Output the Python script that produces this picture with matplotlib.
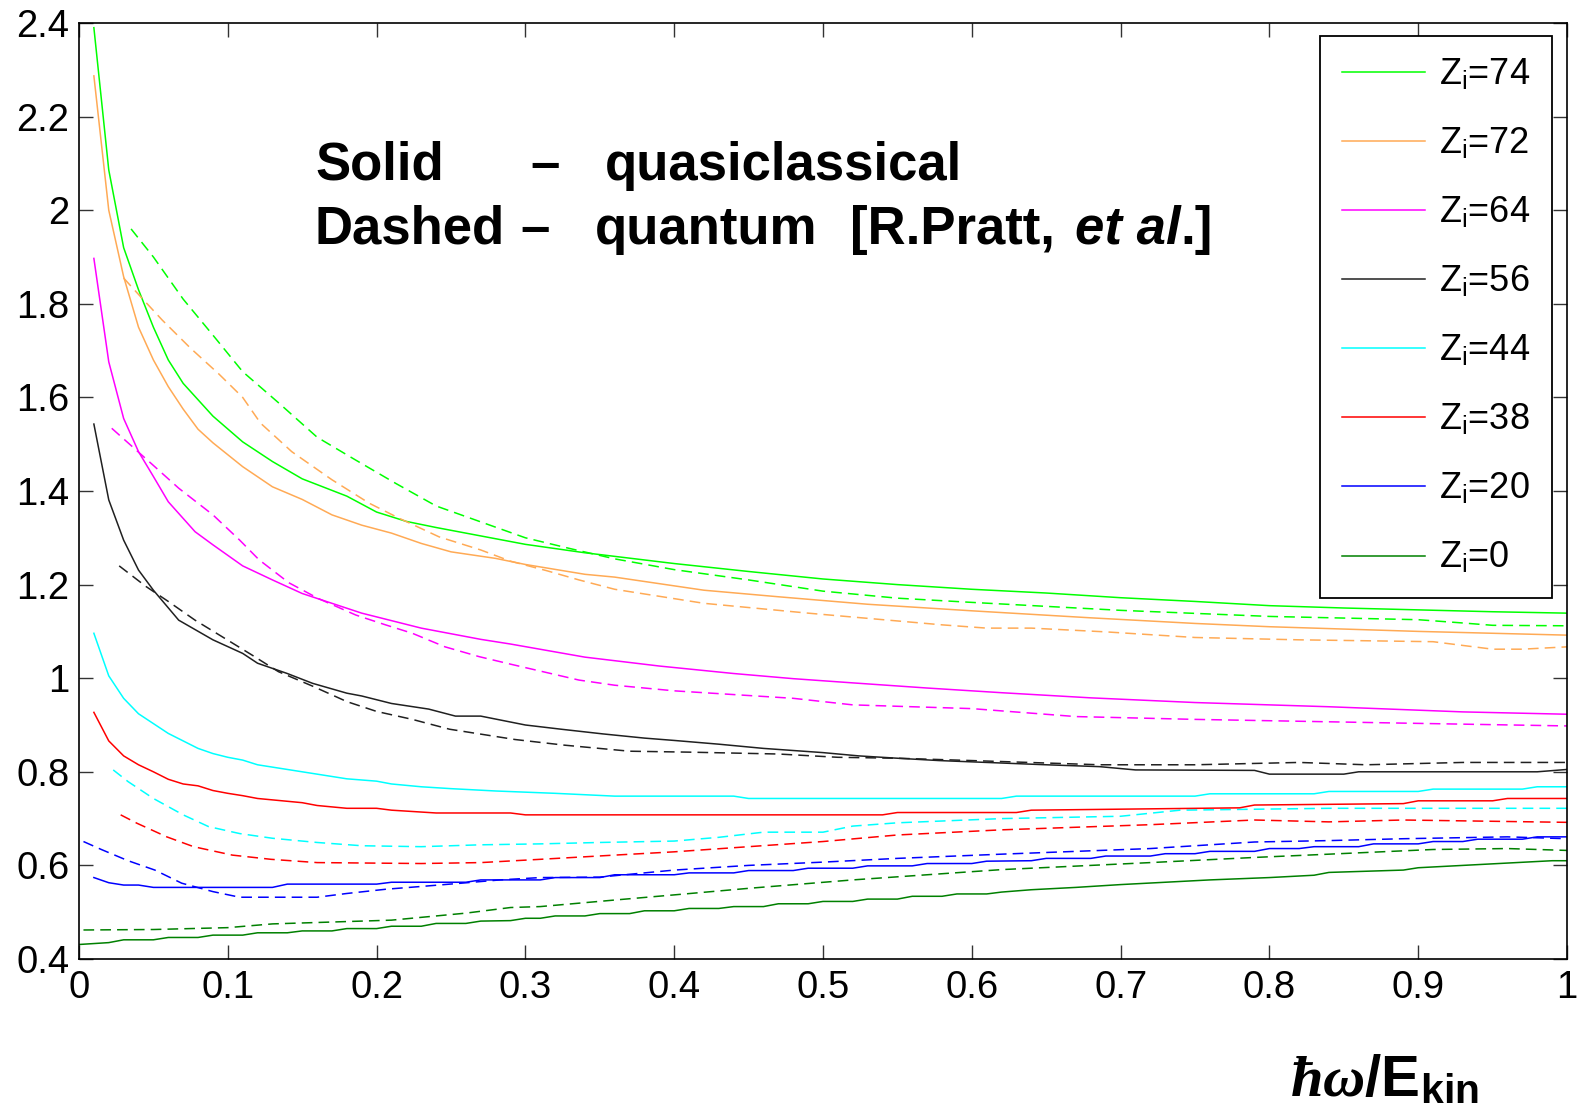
import matplotlib
matplotlib.use("Agg")
import matplotlib.pyplot as plt
from matplotlib.ticker import MultipleLocator, FormatStrFormatter

# Quasiclassical curves (solid), one pair of lists per ion charge Z_i
x_q74 = [0.01, 0.02, 0.03, 0.04, 0.05, 0.06, 0.07, 0.09, 0.11, 0.13, 0.15, 0.18, 0.2, 0.22,
         0.24, 0.26, 0.28, 0.3, 0.34, 0.4, 0.45, 0.5, 0.55, 0.6, 0.65, 0.7, 0.75, 0.8, 0.85,
         0.9, 0.95, 1.0]
y_q74 = [2.39, 2.086, 1.92, 1.83, 1.75, 1.68, 1.63, 1.56, 1.505, 1.463, 1.426, 1.389, 1.355,
         1.335, 1.322, 1.31, 1.298, 1.286, 1.268, 1.245, 1.228, 1.212, 1.200, 1.190, 1.182,
         1.172, 1.164, 1.155, 1.150, 1.146, 1.142, 1.139]

x_q72 = [0.01, 0.02, 0.03, 0.04, 0.05, 0.06, 0.07, 0.08, 0.09, 0.11, 0.13, 0.15, 0.17, 0.19,
         0.21, 0.23, 0.25, 0.28, 0.3, 0.34, 0.36, 0.42, 0.47, 0.53, 0.6, 0.68, 0.75, 0.8,
         0.85, 0.9, 0.95, 1.0]
y_q72 = [2.287, 2.0, 1.858, 1.75, 1.68, 1.623, 1.575, 1.532, 1.503, 1.452, 1.409, 1.382,
         1.349, 1.327, 1.31, 1.288, 1.27, 1.256, 1.243, 1.222, 1.216, 1.188, 1.174, 1.158,
         1.144, 1.129, 1.117, 1.11, 1.105, 1.10, 1.096, 1.092]

x_q64 = [0.01, 0.02, 0.03, 0.04, 0.05, 0.06, 0.078, 0.09, 0.11, 0.13, 0.15, 0.17, 0.19, 0.21,
         0.23, 0.27, 0.29, 0.34, 0.39, 0.44, 0.48, 0.52, 0.57, 0.62, 0.68, 0.75, 0.84, 0.93,
         1.0]
y_q64 = [1.897, 1.676, 1.555, 1.484, 1.431, 1.377, 1.313, 1.285, 1.24, 1.21, 1.181, 1.16,
         1.139, 1.123, 1.107, 1.083, 1.073, 1.045, 1.026, 1.01, 0.999, 0.99, 0.979, 0.969,
         0.958, 0.948, 0.939, 0.928, 0.923]

x_q56 = [0.01, 0.02, 0.03, 0.04, 0.05, 0.067, 0.09, 0.11, 0.12, 0.14, 0.157, 0.18, 0.19,
         0.21, 0.235, 0.253, 0.27, 0.3, 0.324, 0.352, 0.38, 0.4, 0.43, 0.46, 0.5, 0.524,
         0.55, 0.578, 0.61, 0.65, 0.686, 0.71, 0.79, 0.8, 0.85, 0.86, 0.98, 1.0]
y_q56 = [1.543, 1.381, 1.295, 1.231, 1.188, 1.124, 1.082, 1.053, 1.032, 1.01, 0.989, 0.968,
         0.962, 0.946, 0.934, 0.919, 0.919, 0.90, 0.891, 0.881, 0.872, 0.867, 0.859, 0.85,
         0.841, 0.834, 0.829, 0.824, 0.82, 0.815, 0.811, 0.804, 0.803, 0.795, 0.795, 0.80,
         0.80, 0.805]

x_q44 = [0.01, 0.02, 0.03, 0.04, 0.05, 0.06, 0.07, 0.08, 0.09, 0.1, 0.11, 0.12, 0.13, 0.15,
         0.18, 0.2, 0.21, 0.23, 0.25, 0.28, 0.32, 0.36, 0.44, 0.45, 0.62, 0.63, 0.75, 0.76,
         0.83, 0.84, 0.90, 0.91, 0.97, 0.98, 1.0]
y_q44 = [1.096, 1.005, 0.957, 0.924, 0.903, 0.882, 0.866, 0.85, 0.839, 0.831, 0.825, 0.815,
         0.81, 0.80, 0.785, 0.78, 0.774, 0.768, 0.764, 0.759, 0.754, 0.748, 0.748, 0.743,
         0.743, 0.748, 0.748, 0.753, 0.753, 0.758, 0.758, 0.763, 0.763, 0.768, 0.768]

x_q38 = [0.01, 0.02, 0.03, 0.04, 0.05, 0.06, 0.07, 0.08, 0.09, 0.1, 0.11, 0.12, 0.13, 0.15,
         0.16, 0.18, 0.2, 0.21, 0.24, 0.29, 0.3, 0.54, 0.55, 0.63, 0.64, 0.78, 0.79, 0.89,
         0.9, 0.95, 0.96, 1.0]
y_q38 = [0.927, 0.866, 0.834, 0.815, 0.80, 0.784, 0.774, 0.77, 0.76, 0.754, 0.749, 0.743,
         0.74, 0.734, 0.728, 0.722, 0.722, 0.718, 0.712, 0.712, 0.708, 0.708, 0.713, 0.713,
         0.718, 0.723, 0.729, 0.732, 0.738, 0.738, 0.743, 0.743]

x_q20 = [0.01, 0.02, 0.03, 0.04, 0.05, 0.13, 0.14, 0.2, 0.21, 0.26, 0.27, 0.31, 0.32, 0.35,
         0.36, 0.40, 0.41, 0.44, 0.45, 0.48, 0.49, 0.52, 0.53, 0.56, 0.57, 0.60, 0.61, 0.64,
         0.65, 0.68, 0.69, 0.72, 0.73, 0.75, 0.76, 0.79, 0.80, 0.82, 0.83, 0.86, 0.87, 0.90,
         0.91, 0.93, 0.94, 0.97, 0.98, 1.0]
y_q20 = [0.574, 0.563, 0.558, 0.558, 0.553, 0.553, 0.56, 0.56, 0.564, 0.564, 0.569, 0.569,
         0.574, 0.574, 0.58, 0.58, 0.584, 0.584, 0.589, 0.589, 0.594, 0.594, 0.599, 0.599,
         0.604, 0.604, 0.609, 0.61, 0.615, 0.615, 0.62, 0.62, 0.625, 0.625, 0.63, 0.63, 0.636,
         0.636, 0.64, 0.64, 0.646, 0.646, 0.651, 0.651, 0.656, 0.656, 0.661, 0.661]

x_q0 = [0.0, 0.02, 0.03, 0.05, 0.06, 0.08, 0.09, 0.11, 0.12, 0.14, 0.15, 0.17, 0.18, 0.2,
        0.21, 0.23, 0.24, 0.26, 0.27, 0.29, 0.30, 0.31, 0.32, 0.34, 0.35, 0.37, 0.38, 0.40,
        0.41, 0.43, 0.44, 0.46, 0.47, 0.49, 0.50, 0.52, 0.53, 0.55, 0.56, 0.58, 0.59, 0.61,
        0.62, 0.64, 0.67, 0.70, 0.73, 0.76, 0.80, 0.83, 0.84, 0.89, 0.90, 0.93, 0.96, 0.99,
        1.0]
y_q0 = [0.431, 0.435, 0.441, 0.441, 0.446, 0.446, 0.451, 0.451, 0.456, 0.456, 0.46, 0.46,
        0.465, 0.465, 0.47, 0.47, 0.476, 0.476, 0.481, 0.482, 0.487, 0.487, 0.492, 0.492,
        0.497, 0.497, 0.503, 0.503, 0.508, 0.508, 0.512, 0.512, 0.518, 0.518, 0.523, 0.523,
        0.528, 0.528, 0.534, 0.534, 0.539, 0.539, 0.543, 0.548, 0.553, 0.559, 0.564, 0.569,
        0.574, 0.579, 0.585, 0.59, 0.595, 0.60, 0.605, 0.61, 0.61]

# Quantum curves (dashed)
x_p74 = [0.035, 0.05, 0.07, 0.09, 0.11, 0.135, 0.16, 0.186, 0.213, 0.24, 0.27, 0.3, 0.33,
         0.36, 0.4, 0.45, 0.5, 0.55, 0.6, 0.7, 0.8, 0.9, 0.93, 0.95, 1.0]
y_p74 = [1.96, 1.90, 1.81, 1.733, 1.655, 1.586, 1.515, 1.466, 1.416, 1.368, 1.334, 1.30,
         1.277, 1.255, 1.232, 1.21, 1.186, 1.171, 1.162, 1.145, 1.132, 1.125, 1.118, 1.113,
         1.112]

x_p72 = [0.03, 0.04, 0.056, 0.075, 0.094, 0.11, 0.122, 0.143, 0.17, 0.195, 0.215, 0.242,
         0.27, 0.29, 0.314, 0.336, 0.36, 0.42, 0.49, 0.58, 0.61, 0.64, 0.69, 0.75, 0.82,
         0.91, 0.95, 0.97, 1.0]
y_p72 = [1.855, 1.82, 1.765, 1.705, 1.65, 1.60, 1.545, 1.484, 1.424, 1.374, 1.342, 1.302,
         1.274, 1.25, 1.23, 1.21, 1.19, 1.16, 1.139, 1.114, 1.107, 1.107, 1.099, 1.087,
         1.082, 1.078, 1.062, 1.062, 1.067]

x_p64 = [0.022, 0.046, 0.067, 0.09, 0.108, 0.121, 0.141, 0.161, 0.186, 0.206, 0.224, 0.246,
         0.269, 0.29, 0.336, 0.36, 0.40, 0.48, 0.52, 0.6, 0.67, 0.75, 0.89, 1.0]
y_p64 = [1.534, 1.466, 1.406, 1.349, 1.295, 1.253, 1.204, 1.17, 1.135, 1.114, 1.096, 1.067,
         1.046, 1.03, 0.996, 0.985, 0.973, 0.957, 0.943, 0.935, 0.918, 0.912, 0.904, 0.898]

x_p56 = [0.027, 0.045, 0.06, 0.078, 0.096, 0.116, 0.134, 0.157, 0.18, 0.2, 0.224, 0.249,
         0.293, 0.326, 0.37, 0.41, 0.47, 0.51, 0.55, 0.6, 0.686, 0.75, 0.82, 0.865, 0.93, 1.0]
y_p56 = [1.24, 1.196, 1.164, 1.124, 1.089, 1.05, 1.014, 0.983, 0.95, 0.929, 0.912, 0.891,
         0.869, 0.857, 0.844, 0.842, 0.838, 0.831, 0.829, 0.824, 0.815, 0.815, 0.82, 0.815,
         0.82, 0.82]

x_p44 = [0.023, 0.033, 0.05, 0.07, 0.087, 0.108, 0.13, 0.16, 0.19, 0.23, 0.27, 0.31, 0.35,
         0.40, 0.43, 0.46, 0.50, 0.52, 0.55, 0.62, 0.70, 0.74, 0.84, 1.0]
y_p44 = [0.804, 0.779, 0.743, 0.708, 0.683, 0.668, 0.658, 0.649, 0.642, 0.64, 0.644, 0.646,
         0.649, 0.652, 0.66, 0.671, 0.671, 0.684, 0.691, 0.70, 0.705, 0.718, 0.722, 0.722]

x_p38 = [0.028, 0.039, 0.059, 0.077, 0.103, 0.129, 0.16, 0.23, 0.27, 0.31, 0.36, 0.40, 0.45,
         0.50, 0.55, 0.62, 0.72, 0.79, 0.84, 0.89, 1.0]
y_p38 = [0.708, 0.69, 0.661, 0.64, 0.622, 0.613, 0.606, 0.604, 0.606, 0.613, 0.622, 0.629,
         0.64, 0.651, 0.665, 0.676, 0.687, 0.697, 0.693, 0.697, 0.692]

x_p20 = [0.003, 0.015, 0.033, 0.051, 0.069, 0.09, 0.108, 0.16, 0.18, 0.206, 0.23, 0.257,
         0.283, 0.31, 0.35, 0.40, 0.45, 0.50, 0.55, 0.62, 0.72, 0.79, 0.84, 0.89, 0.96, 1.0]
y_p20 = [0.651, 0.634, 0.61, 0.59, 0.562, 0.544, 0.532, 0.532, 0.54, 0.549, 0.555, 0.562,
         0.569, 0.574, 0.575, 0.59, 0.60, 0.607, 0.615, 0.624, 0.636, 0.65, 0.653, 0.657,
         0.661, 0.657]

x_p0 = [0.003, 0.05, 0.1, 0.13, 0.18, 0.21, 0.26, 0.29, 0.31, 0.36, 0.4, 0.45, 0.52, 0.62,
        0.72, 0.79, 0.84, 0.91, 0.96, 1.0]
y_p0 = [0.462, 0.463, 0.467, 0.475, 0.48, 0.483, 0.498, 0.51, 0.512, 0.526, 0.537, 0.551,
        0.569, 0.591, 0.606, 0.617, 0.624, 0.634, 0.636, 0.632]

charges = ["74", "72", "64", "56", "44", "38", "20", "0"]
colors = ["#00ff00", "#ffaa55", "#ff00ff", "#202020", "#00ffff", "#ff0000", "#0000ff", "#008000"]
solid = [(x_q74, y_q74), (x_q72, y_q72), (x_q64, y_q64), (x_q56, y_q56),
         (x_q44, y_q44), (x_q38, y_q38), (x_q20, y_q20), (x_q0, y_q0)]
dashed = [(x_p74, y_p74), (x_p72, y_p72), (x_p64, y_p64), (x_p56, y_p56),
          (x_p44, y_p44), (x_p38, y_p38), (x_p20, y_p20), (x_p0, y_p0)]

plt.rcParams["font.family"] = ["Liberation Sans", "DejaVu Sans"]
plt.rcParams["mathtext.fontset"] = "custom"
plt.rcParams["mathtext.rm"] = "Liberation Sans"
plt.rcParams["mathtext.bf"] = "Liberation Sans:bold"
plt.rcParams["mathtext.it"] = "Liberation Serif:italic:bold"

fig = plt.figure(figsize=(15.77, 11.13), dpi=100)
ax = fig.add_axes([79 / 1577, 1 - 959 / 1113, 1488 / 1577, 936 / 1113])

for (xs, ys), (xd, yd), z, c in zip(solid, dashed, charges, colors):
    ax.plot(xs, ys, color=c, lw=1.1, label=r"Z$_{\rm i}$=" + z)
    ax.plot(xd, yd, color=c, lw=1.1, dashes=(7, 4))

ax.set_xlim(0, 1)
ax.set_ylim(0.4, 2.4)
ax.xaxis.set_major_locator(MultipleLocator(0.1))
ax.yaxis.set_major_locator(MultipleLocator(0.2))
ax.xaxis.set_major_formatter(FormatStrFormatter("%g"))
ax.yaxis.set_major_formatter(FormatStrFormatter("%g"))
ax.tick_params(direction="in", length=10, width=1.0, labelsize=27.5,
               top=True, right=True, color="#333333")
ax.tick_params(axis="x", pad=8)
ax.tick_params(axis="y", pad=7)
for sp in ax.spines.values():
    sp.set_linewidth(1.2)

leg = ax.legend(loc="upper right", bbox_to_anchor=(0.99, 0.986), fontsize=26,
                frameon=True, fancybox=False, framealpha=1, edgecolor="black",
                handlelength=2.3, handletextpad=0.4, labelspacing=0.94,
                borderpad=0.6, borderaxespad=0)
leg.get_frame().set_linewidth(1.3)

# Caption inside the plot
tkw = dict(fontsize=38, fontweight="bold", va="baseline", transform=fig.transFigure)
y1 = 1 - 180 / 1113
y2 = 1 - 244 / 1113
fig.text(315 / 1577, y1, "Solid", **tkw)
fig.text(530 / 1577, y1, "–", **tkw)
fig.text(605 / 1577, y1, "quasiclassical", **tkw)
fig.text(315 / 1577, y2, "Dashed", **tkw)
fig.text(520 / 1577, y2, "–", **tkw)
fig.text(595 / 1577, y2, "quantum", **tkw)
fig.text(850 / 1577, y2, "[R.Pratt,", **tkw)
etal = fig.text(1075 / 1577, y2, "et al", fontstyle="italic", **tkw)
fig.canvas.draw()
ax.annotate(".]", xy=(1, 0), xycoords=etal, fontsize=38, fontweight="bold",
            va="bottom", ha="left")

fig.text(1290 / 1577, 1 - 1096 / 1113, r"$ħω$/E$_{\mathbf{kin}}$",
         fontsize=42, fontweight="bold", va="baseline")

fig.savefig("out.png", dpi=100)
